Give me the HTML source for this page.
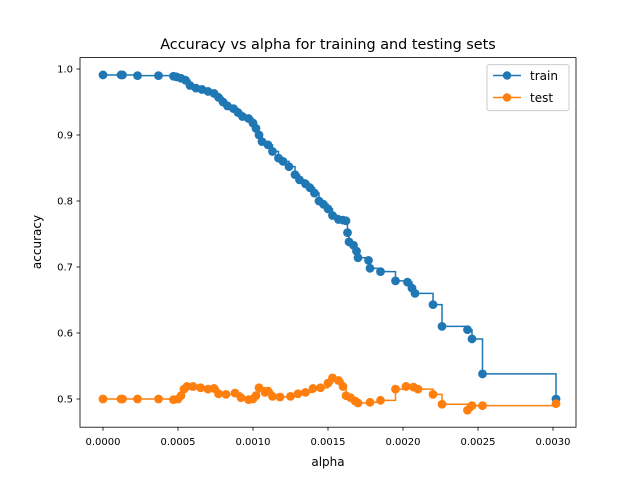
<!DOCTYPE html>
<html><head><meta charset="utf-8"><style>
body{margin:0;background:#fff}
svg{font-family:"DejaVu Sans","Liberation Sans",sans-serif}
</style></head><body>
<svg id="chart" width="640" height="480">
<rect width="640" height="480" fill="#fff"/>
<text x="328" y="49" font-size="14.4" text-anchor="middle">Accuracy vs alpha for training and testing sets</text>
<g id="plot"></g>
<rect x="80" y="57.6" width="496" height="369.6" fill="none" stroke="#000" stroke-width="0.8"/>
<text x="328" y="466" font-size="12" text-anchor="middle">alpha</text>
<text transform="translate(41,242) rotate(-90)" font-size="12" text-anchor="middle">accuracy</text>
<g>
<rect x="487" y="64.6" width="82" height="46" rx="2" fill="#fff" stroke="#ccc" stroke-width="1"/>
<g>
<line x1="493" y1="75.5" x2="521" y2="75.5" stroke="#1f77b4" stroke-width="1.5"/>
<circle cx="507" cy="75.5" r="4.2" fill="#1f77b4"/>
<text x="530" y="80" font-size="12">train</text></g>
<g>
<line x1="493" y1="97.5" x2="521" y2="97.5" stroke="#ff7f0e" stroke-width="1.5"/>
<circle cx="507" cy="97.5" r="4.2" fill="#ff7f0e"/>
<text x="530" y="102" font-size="12">test</text></g>
</g>
</svg>
<script>
const trainAlpha=[0,0.00012,0.00013,0.00023,0.00037,0.00047,0.00049,0.00052,0.00055,0.00058,0.00062,0.00066,0.0007,0.00074,0.00077,0.0008,0.00083,0.00087,0.0009,0.00093,0.00097,0.001,0.00102,0.00104,0.00106,0.0011,0.00113,0.00117,0.0012,0.00124,0.00128,0.00131,0.00135,0.00138,0.00141,0.00144,0.00147,0.0015,0.00153,0.00157,0.0016,0.00162,0.00163,0.00164,0.00167,0.00169,0.0017,0.00177,0.00178,0.00185,0.00195,0.00203,0.00206,0.00208,0.0022,0.00226,0.00243,0.00246,0.00253,0.00302];
const trainAcc=[0.991,0.991,0.991,0.990,0.990,0.989,0.988,0.986,0.983,0.975,0.971,0.969,0.966,0.963,0.957,0.950,0.944,0.940,0.934,0.928,0.925,0.918,0.910,0.900,0.890,0.885,0.875,0.865,0.860,0.852,0.840,0.832,0.826,0.820,0.812,0.800,0.795,0.788,0.778,0.772,0.771,0.770,0.752,0.738,0.733,0.724,0.714,0.710,0.698,0.693,0.679,0.677,0.668,0.660,0.643,0.610,0.605,0.591,0.538,0.500];
const testAlpha=[0,0.00012,0.00013,0.00023,0.00037,0.00047,0.0005,0.00052,0.00054,0.00056,0.0006,0.00065,0.0007,0.00074,0.00077,0.00082,0.00088,0.00092,0.00097,0.001,0.00102,0.00104,0.00108,0.0011,0.00113,0.00118,0.00125,0.0013,0.00135,0.0014,0.00145,0.0015,0.00153,0.00157,0.0016,0.00162,0.00165,0.00168,0.0017,0.00178,0.00185,0.00195,0.00202,0.00207,0.0021,0.0022,0.00226,0.00243,0.00246,0.00253,0.00302];
const testAcc=[0.5,0.5,0.5,0.5,0.5,0.499,0.5,0.505,0.515,0.519,0.519,0.517,0.515,0.516,0.508,0.507,0.509,0.502,0.499,0.5,0.505,0.517,0.510,0.512,0.504,0.503,0.504,0.508,0.510,0.516,0.517,0.524,0.532,0.528,0.519,0.505,0.502,0.497,0.494,0.495,0.498,0.515,0.519,0.518,0.515,0.507,0.492,0.483,0.490,0.490,0.493];
const xTicks=[0,0.0005,0.001,0.0015,0.002,0.0025,0.003];
const xTickLabels=["0.0000","0.0005","0.0010","0.0015","0.0020","0.0025","0.0030"];
const yTicks=[0.5,0.6,0.7,0.8,0.9,1.0];
const yTickLabels=["0.5","0.6","0.7","0.8","0.9","1.0"];

const NS="http://www.w3.org/2000/svg";
const X=a=>103+a*150000;
const Y=v=>399-(v-0.5)*660;
const g=document.getElementById('plot');
function mk(t,at){const e=document.createElementNS(NS,t);for(const k in at)e.setAttribute(k,at[k]);g.appendChild(e);return e;}
xTicks.forEach((t,i)=>{
  const l=mk('line',{x1:X(t),x2:X(t),y1:427.2,y2:430.7,stroke:'#000','stroke-width':0.8});
  
  
  const tx=mk('text',{x:X(t),y:445,'font-size':10,'text-anchor':'middle'});tx.textContent=xTickLabels[i];
  
  
});
yTicks.forEach((t,i)=>{
  const l=mk('line',{x1:76.5,x2:80,y1:Y(t),y2:Y(t),stroke:'#000','stroke-width':0.8});
  
  
  const tx=mk('text',{x:73,y:Y(t)+3.5,'font-size':10,'text-anchor':'end'});tx.textContent=yTickLabels[i];
  
  
});
function series(xs,ys,color,name){
  let d='M'+X(xs[0])+','+Y(ys[0]);
  for(let i=1;i<xs.length;i++){d+=' H'+X(xs[i])+' V'+Y(ys[i]);}
  const p=mk('path',{d:d,fill:'none',stroke:color,'stroke-width':1.5});
  
  
  xs.forEach((a,i)=>{
    const c=mk('circle',{cx:X(a),cy:Y(ys[i]),r:4.4,fill:color});
    
    
  });
}
series(trainAlpha,trainAcc,'#1f77b4','train');
series(testAlpha,testAcc,'#ff7f0e','test');
</script>
</body></html>
